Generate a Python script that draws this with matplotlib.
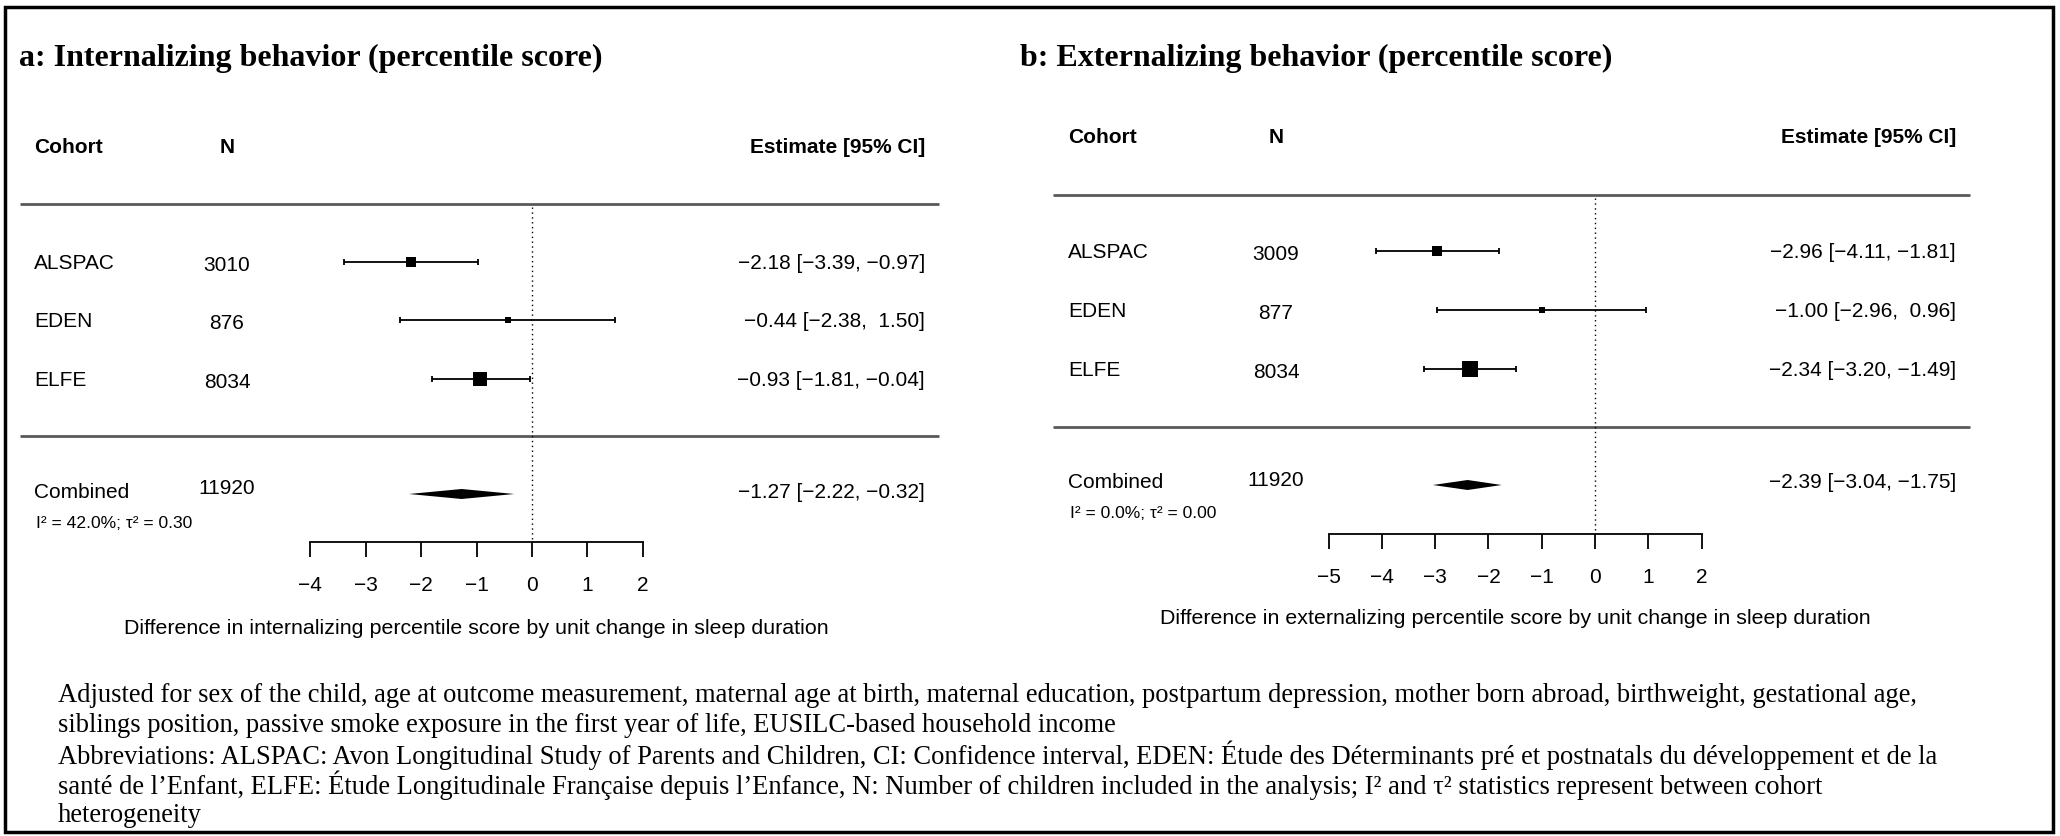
import matplotlib
matplotlib.use("Agg")
import matplotlib.pyplot as plt
import matplotlib.transforms as mtrans
from matplotlib.patches import Rectangle

plt.rcParams['font.family'] = ['Liberation Sans', 'DejaVu Sans']

W, H = 2060, 837

# ---- data ----
cohorts = ["ALSPAC", "EDEN", "ELFE"]

int_n = [3010, 876, 8034]
int_n_total = 11920
int_est = [-2.18, -0.44, -0.93]
int_lo = [-3.39, -2.38, -1.81]
int_hi = [-0.97, 1.50, -0.04]
int_weight = [32, 7, 61]
int_comb = [-1.27, -2.22, -0.32]
int_het = "I\u00b2 = 42.0%; \u03c4\u00b2 = 0.30"
int_ticks = [-4, -3, -2, -1, 0, 1, 2]

ext_n = [3009, 877, 8034]
ext_n_total = 11920
ext_est = [-2.96, -1.00, -2.34]
ext_lo = [-4.11, -2.96, -3.20]
ext_hi = [-1.81, 0.96, -1.49]
ext_weight = [28, 8, 64]
ext_comb = [-2.39, -3.04, -1.75]
ext_het = "I\u00b2 = 0.0%; \u03c4\u00b2 = 0.00"
ext_ticks = [-5, -4, -3, -2, -1, 0, 1, 2]

footnotes = [
    "Adjusted for sex of the child, age at outcome measurement, maternal age at birth, maternal education, postpartum depression, mother born abroad, birthweight, gestational age,",
    "siblings position, passive smoke exposure in the first year of life, EUSILC-based household income",
    "Abbreviations: ALSPAC: Avon Longitudinal Study of Parents and Children, CI: Confidence interval, EDEN: \u00c9tude des D\u00e9terminants pr\u00e9 et postnatals du d\u00e9veloppement et de la",
    "sant\u00e9 de l\u2019Enfant, ELFE: \u00c9tude Longitudinale Fran\u00e7aise depuis l\u2019Enfance, N: Number of children included in the analysis; I\u00b2 and \u03c4\u00b2 statistics represent between cohort",
    "heterogeneity",
]


def fmt(v):
    return f"{v:5.2f}".replace("-", "\u2212")


fig = plt.figure(figsize=(W / 100, H / 100), dpi=100)


def forest(title, n, n_total, est, lo, hi, weight, comb, het, ticks, xlabel,
           left, right, zero, unit, title_x, col_cohort, col_n, col_est, line_left,
           y_head, y_top, rows, y_bot, y_comb, y_het, y_axis, y_xlab):
    ax = fig.add_axes([left / W, 0, (right - left) / W, 1])
    ax.set_xlim((left - zero) / unit, (right - zero) / unit)
    ax.set_ylim(H, 0)
    ax.patch.set_alpha(0)
    for s in ['top', 'left', 'right']:
        ax.spines[s].set_visible(False)
    ax.spines['bottom'].set_position(('data', y_axis))
    ax.spines['bottom'].set_bounds(ticks[0], ticks[-1])
    ax.spines['bottom'].set_linewidth(1.3)
    ax.set_xticks(ticks)
    ax.set_yticks([])
    ax.tick_params(axis='x', direction='out', length=11, width=1.3, pad=13,
                   labelsize=15)
    px = mtrans.blended_transform_factory(mtrans.IdentityTransform(), ax.transData)

    fig.text(title_x / W, 1 - y_title / H, title, family='Liberation Serif',
             weight='bold', fontsize=23, va='center', ha='left')

    fs = 15
    ax.text(col_cohort, y_head, "Cohort", transform=px, fontsize=fs, weight='bold', va='center')
    ax.text(col_n, y_head, "N", transform=px, fontsize=fs, weight='bold', va='center', ha='center')
    ax.text(col_est, y_head, "Estimate [95% CI]", transform=px, fontsize=fs, weight='bold',
            va='center', ha='right')

    ax.hlines([y_top, y_bot], line_left, col_est + 14, transform=px, color='#5a5a5a', lw=2)
    ax.vlines(0, y_top + 3, y_axis, color='black', lw=1, linestyles=(0, (1, 2.5)))

    for i, c in enumerate(cohorts):
        y = rows[i]
        ax.text(col_cohort, y, c, transform=px, fontsize=fs, va='center')
        ax.text(col_n, y + 2, str(n[i]), transform=px, fontsize=fs, va='center', ha='center')
        ax.text(col_est, y, f"{fmt(est[i])} [{fmt(lo[i])}, {fmt(hi[i])}]", transform=px,
                fontsize=fs, va='center', ha='right')
        ax.errorbar(est[i], y, xerr=[[est[i] - lo[i]], [hi[i] - est[i]]], fmt='none',
                    ecolor='black', elinewidth=1.3, capsize=2.3, capthick=1.3)
        side = 1.92 * weight[i] ** 0.5 * 0.72
        ax.scatter([est[i]], [y], marker='s', s=side ** 2, color='black', linewidths=0, zorder=3)

    ax.text(col_cohort, y_comb, "Combined", transform=px, fontsize=fs, va='center')
    ax.text(col_n, y_comb - 3, str(n_total), transform=px, fontsize=fs, va='center', ha='center')
    ax.text(col_est, y_comb, f"{fmt(comb[0])} [{fmt(comb[1])}, {fmt(comb[2])}]", transform=px,
            fontsize=fs, va='center', ha='right')
    ax.fill([comb[1], comb[0], comb[2], comb[0]], [y_comb + 3, y_comb - 2, y_comb + 3, y_comb + 8],
            color='black', lw=0)
    ax.text(col_cohort + 2, y_het, het, transform=px, fontsize=12.6, va='center')

    ax.text((ticks[0] + ticks[-1]) / 2, y_xlab, xlabel, fontsize=15.4, ha='center', va='center')


y_title = 58
forest("a: Internalizing behavior (percentile score)", int_n, int_n_total, int_est, int_lo, int_hi,
       int_weight, int_comb, int_het, int_ticks,
       "Difference in internalizing percentile score by unit change in sleep duration",
       left=10, right=1020, zero=532, unit=55.4, title_x=19, col_cohort=34, col_n=227, col_est=925,
       line_left=20, y_head=147, y_top=205, rows=[263, 321, 380], y_bot=437, y_comb=492, y_het=523,
       y_axis=543, y_xlab=629)
forest("b: Externalizing behavior (percentile score)", ext_n, ext_n_total, ext_est, ext_lo, ext_hi,
       ext_weight, ext_comb, ext_het, ext_ticks,
       "Difference in externalizing percentile score by unit change in sleep duration",
       left=1040, right=2050, zero=1595, unit=53.3, title_x=1020, col_cohort=1068, col_n=1276,
       col_est=1956, line_left=1053, y_head=137, y_top=196, rows=[252, 311, 370], y_bot=428,
       y_comb=483, y_het=514, y_axis=535, y_xlab=619)

for i, line in enumerate(footnotes):
    fig.text(58 / W, 1 - (696 + 29.8 * i) / H, line, family='Liberation Serif',
             fontsize=19.1, va='center', ha='left')

fig.add_artist(Rectangle((5 / W, 4 / H), 2048 / W, 825 / H, fill=False, lw=2.5,
                         edgecolor='black', transform=fig.transFigure))

fig.savefig("out.png", dpi=100)
